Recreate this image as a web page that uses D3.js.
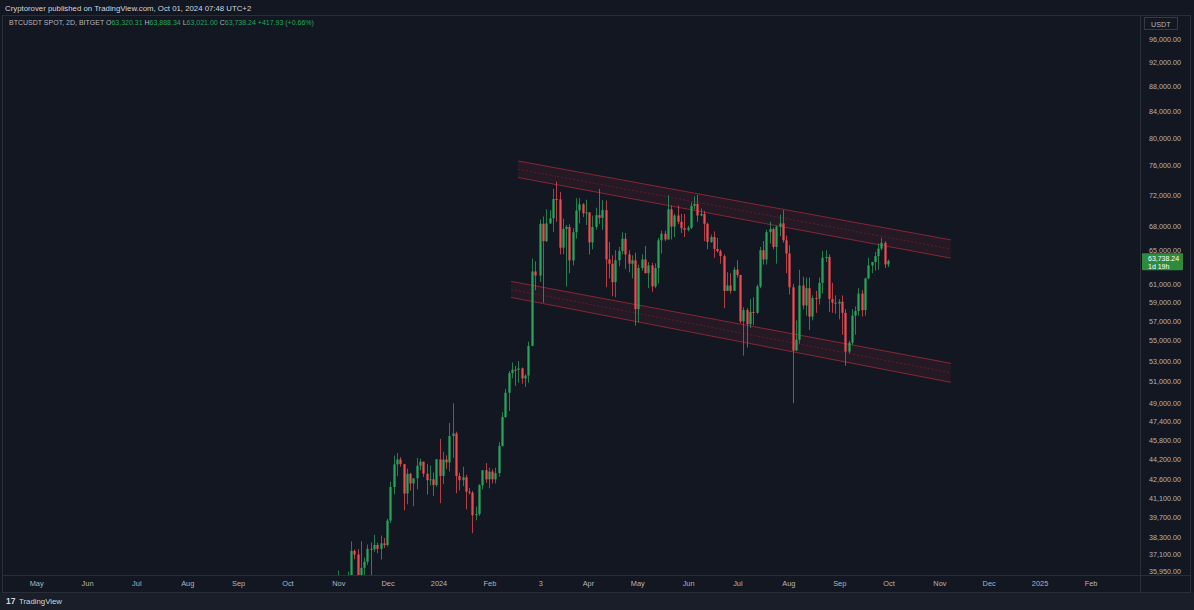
<!DOCTYPE html>
<html><head><meta charset="utf-8">
<script src="https://cdn.jsdelivr.net/npm/d3@7/dist/d3.min.js"></script>
<style>
html,body{margin:0;padding:0;background:#131722;}
svg{display:block;font-family:"Liberation Sans",Arial,sans-serif;}
</style></head>
<body>
<svg id="c" width="1194" height="610"></svg>
<script>
// ---------- DATA (2D candles, BTCUSDT, Bitget) ----------
const dates = [
"2023-10-28","2023-10-30","2023-11-01","2023-11-03","2023-11-05","2023-11-07","2023-11-09","2023-11-11","2023-11-13","2023-11-15","2023-11-17","2023-11-19","2023-11-21","2023-11-23","2023-11-25","2023-11-27","2023-11-29",
"2023-12-01","2023-12-03","2023-12-05","2023-12-07","2023-12-09","2023-12-11","2023-12-13","2023-12-15","2023-12-17","2023-12-19","2023-12-21","2023-12-23","2023-12-25","2023-12-27","2023-12-29","2023-12-31",
"2024-01-02","2024-01-04","2024-01-06","2024-01-08","2024-01-10","2024-01-12","2024-01-14","2024-01-16","2024-01-18","2024-01-20","2024-01-22","2024-01-24","2024-01-26","2024-01-28","2024-01-30",
"2024-02-01","2024-02-03","2024-02-05","2024-02-07","2024-02-09","2024-02-11","2024-02-13","2024-02-15","2024-02-17","2024-02-19","2024-02-21","2024-02-23","2024-02-25","2024-02-27","2024-02-29",
"2024-03-03","2024-03-05","2024-03-07","2024-03-09","2024-03-11","2024-03-13","2024-03-15","2024-03-17","2024-03-19","2024-03-21","2024-03-23","2024-03-25","2024-03-27","2024-03-29","2024-03-31",
"2024-04-02","2024-04-04","2024-04-06","2024-04-08","2024-04-10","2024-04-12","2024-04-14","2024-04-16","2024-04-18","2024-04-20","2024-04-22","2024-04-24","2024-04-26","2024-04-28","2024-04-30",
"2024-05-02","2024-05-04","2024-05-06","2024-05-08","2024-05-10","2024-05-12","2024-05-14","2024-05-16","2024-05-18","2024-05-20","2024-05-22","2024-05-24","2024-05-26","2024-05-28","2024-05-30",
"2024-06-01","2024-06-03","2024-06-05","2024-06-07","2024-06-09","2024-06-11","2024-06-13","2024-06-15","2024-06-17","2024-06-19","2024-06-21","2024-06-23","2024-06-25","2024-06-27","2024-06-29",
"2024-07-01","2024-07-03","2024-07-05","2024-07-07","2024-07-09","2024-07-11","2024-07-13","2024-07-15","2024-07-17","2024-07-19","2024-07-21","2024-07-23","2024-07-25","2024-07-27","2024-07-29","2024-07-31",
"2024-08-02","2024-08-04","2024-08-06","2024-08-08","2024-08-10","2024-08-12","2024-08-14","2024-08-16","2024-08-18","2024-08-20","2024-08-22","2024-08-24","2024-08-26","2024-08-28","2024-08-30",
"2024-09-01","2024-09-03","2024-09-05","2024-09-07","2024-09-09","2024-09-11","2024-09-13","2024-09-15","2024-09-17","2024-09-19","2024-09-21","2024-09-23","2024-09-25","2024-09-27","2024-09-29",
"2024-10-01"];
const open = [
33900,34500,34670,34940,35080,35040,35640,37310,37060,35550,36160,36570,37450,37420,37720,37450,37830,
37720,39460,41980,43770,44170,43790,41480,43020,42260,42660,43660,43990,43020,42520,42580,42140,
44180,42850,44160,43930,46120,46340,42840,42510,42740,41620,41550,39850,39930,42120,43300,
42580,43190,42580,43080,45290,47770,49960,51800,52130,52120,52260,51300,51570,54480,62500,
62030,68250,66100,68300,68950,71450,71400,65300,67600,67850,63780,67200,69950,70750,69600,
69700,65950,67850,69350,69000,70000,63900,63400,61280,63800,64900,66400,64500,63400,63800,
58300,62900,63900,62300,63200,60800,62900,66200,67000,66300,70100,67900,69300,68500,67700,
67500,67750,70550,70800,69300,69500,68250,66000,66600,65150,64900,64300,60300,60900,60300,
62700,62100,57000,58200,56700,58000,57900,60800,65000,63900,67200,67600,65400,67900,68300,66200,
64600,60700,54000,55100,60900,58700,60600,57500,59500,59450,61200,64100,64200,59400,59000,
58900,59100,57900,53900,54800,57600,58100,60000,58200,61700,63200,63600,64300,65200,65900,
63320.31];
const high = [
34750,34850,35980,35280,35380,35900,37970,37410,37420,37980,36850,37750,37890,38430,37890,38380,38200,
39600,42400,44490,44700,44360,43810,43430,43090,42420,44300,44240,44000,43810,43680,43120,44200,
45880,44800,44500,47250,49000,46500,43100,43580,42930,41900,41680,40500,42200,43300,43880,
43500,43380,43500,45600,48200,50330,52000,52820,52500,52980,52350,51700,54900,64000,63680,
68800,69170,70100,70000,72800,73780,72400,68900,68100,68200,67700,71550,71600,70900,71350,
69700,69300,70300,72800,71300,71250,66000,64400,65000,65400,67200,67100,65000,64400,64700,
63300,64500,65500,63600,63500,63450,66500,67400,67400,71950,70600,69500,70600,69500,69500,
68000,71000,71800,72000,70200,69900,68400,66900,67300,66500,65100,64500,62400,62300,63000,
63800,62100,58500,58400,59400,59600,61000,65400,66100,67500,68500,67800,68000,69400,70000,66800,
65600,61100,57100,62700,61900,61800,61800,59800,60300,61800,64900,65000,64500,61200,59800,
59400,59800,58300,55000,58300,58600,60600,60400,61800,64100,63600,64800,65800,66500,66100,
63888.34];
const low = [
33880,34080,34300,34100,34450,34520,35540,36730,34800,35360,35500,36360,35630,37250,37150,36720,37500,
37620,39280,41420,42820,43580,40220,40670,41700,40520,41800,43300,42770,41400,42100,41300,42000,
40750,42200,43400,43200,44300,41500,41720,42050,40280,41400,38550,39480,39800,41800,42300,
41880,42250,42260,42790,45240,47700,48300,51300,50600,50900,50800,50500,50900,54450,60360,
61300,59000,66000,68200,67200,68500,64500,64500,60800,62300,63200,66400,68300,69100,68100,
64500,65100,67500,68200,67500,60700,61700,59700,59600,63100,64500,62800,62400,61700,56550,
56900,62600,62300,60600,60200,60600,61100,64600,66100,66300,66300,66600,68200,67100,66600,
67300,67600,70100,68500,69200,66100,65100,65900,64100,64700,63400,58400,60300,60000,60300,
61800,56800,53500,54300,56300,56600,57800,60600,63300,63300,65800,65100,63400,66700,65900,62300,
59900,49000,54000,54700,58300,57600,56100,57100,57900,58800,60000,63600,58000,57900,57800,
57200,55600,52500,53700,54600,55600,57600,57500,57600,61600,62300,62600,62700,65000,62900,
63021.00];
const close = [
34500,34670,34940,35080,35040,35640,37310,37060,35550,36160,36570,37450,37420,37720,37450,37830,37720,
39460,41980,43770,44170,43790,41480,43020,42260,42660,43660,43990,43020,42520,42580,42140,44180,
42850,44160,43930,46120,46340,42840,42510,42740,41620,41550,39850,39930,42120,43300,42580,
43190,42580,43080,45290,47770,49960,51800,52130,52120,52260,51300,51570,54480,62500,62030,
68250,66100,68300,68950,71450,71400,65300,67600,67850,63780,67200,69950,70750,69600,69700,
65950,67850,69350,69000,70000,63900,63400,61280,63800,64900,66400,64500,63400,63800,58300,
62900,63900,62300,63200,60800,62900,66200,67000,66300,70100,67900,69300,68500,67700,67500,
67750,70550,70800,69300,69500,68250,66000,66600,65150,64900,64300,60300,60900,60300,62700,
62100,57000,58200,56700,58000,57900,60800,65000,63900,67200,67600,65400,67900,68300,66200,64600,
60700,54000,55100,60900,58700,60600,57500,59500,59450,61200,64100,64200,59400,59000,58900,
59100,57900,53900,54800,57600,58100,60000,58200,61700,63200,63600,64300,65200,65900,63320,
63738.24];

const priceTicks = [96000,92000,88000,84000,80000,76000,72000,68000,65000,61000,59000,57000,55000,53000,51000,49000,47400,45800,44200,42600,41100,39700,38300,37100,35950];
const timeTicks = ["2023-05-01","2023-06-01","2023-07-01","2023-08-01","2023-09-01","2023-10-01","2023-11-01","2023-12-01","2024-01-01","2024-02-01","2024-03-03","2024-04-01","2024-05-01","2024-06-01","2024-07-01","2024-08-01","2024-09-01","2024-10-01","2024-11-01","2024-12-01","2025-01-01","2025-02-01"];
const timeLabels = ["May","Jun","Jul","Aug","Sep","Oct","Nov","Dec","2024","Feb","3","Apr","May","Jun","Jul","Aug","Sep","Oct","Nov","Dec","2025","Feb"];

// drawn channels: [start date, end date], [top start, top end], [bottom start, bottom end]
const upperChannelDates = ["2024-02-18T17:00Z","2024-11-08T08:00Z"];
const upperChannelTop = [76640,66250];
const upperChannelBottom = [74340,64050];
const lowerChannelDates = ["2024-02-14T10:00Z","2024-11-08T08:00Z"];
const lowerChannelTop = [61370,52750];
const lowerChannelBottom = [59580,50930];

const header = "Cryptorover published on TradingView.com, Oct 01, 2024 07:48 UTC+2";
const symbolTitle = "BTCUSDT SPOT, 2D, BITGET";
const lastValues = {O:"63,320.31",H:"63,888.34",L:"63,021.00",C:"63,738.24"};
const changeText = "+417.93 (+0.66%)";
const countdown = "1d 19h";

// ---------- LAYOUT ----------
const W=1194,H=610;
const pane={l:2,r:1140,t:15,b:575};
const UP="#26a65b", DOWN="#ef4a4f", TXT="#b2b5be";
const svg=d3.select("#c");
const parse=s=>new Date(s.length===10? s+"T00:00:00Z": s);

const x=d3.scaleUtc().domain([parse("2024-01-01"),parse("2024-10-01")]).range([438,888]);
const y=d3.scaleLog().domain([35950,96000]).range([571,39]);

// backgrounds
svg.append("rect").attr("width",W).attr("height",H).attr("fill","#131722");
svg.append("rect").attr("x",0).attr("y",592).attr("width",W).attr("height",18).attr("fill","#1a1e29");
// pane border
svg.append("rect").attr("x",pane.l+0.5).attr("y",pane.t+0.5).attr("width",1188).attr("height",pane.b-pane.t+17)
  .attr("fill","none").attr("stroke","#2a2e39");
svg.append("line").attr("x1",pane.r+0.5).attr("x2",pane.r+0.5).attr("y1",pane.t).attr("y2",592).attr("stroke","#2a2e39");
svg.append("line").attr("x1",pane.l).attr("x2",1190).attr("y1",pane.b+0.5).attr("y2",pane.b+0.5).attr("stroke","#2a2e39");

const defs=svg.append("defs");
defs.append("clipPath").attr("id","pc").append("rect").attr("x",pane.l+1).attr("y",pane.t+1).attr("width",pane.r-pane.l-1).attr("height",pane.b-pane.t-1);
const g=svg.append("g").attr("clip-path","url(#pc)");

// channels
function channel(ds,top,bot){
  const x0=x(parse(ds[0])), x1=x(parse(ds[1]));
  const t0=y(top[0]), t1=y(top[1]), b0=y(bot[0]), b1=y(bot[1]);
  g.append("path").attr("d",`M${x0},${t0}L${x1},${t1}L${x1},${b1}L${x0},${b0}Z`)
    .attr("fill","rgba(242,54,69,0.08)");
  const line=(a,b,dash,op)=>g.append("line").attr("x1",x0).attr("y1",a).attr("x2",x1).attr("y2",b)
    .attr("stroke","#f23645").attr("stroke-opacity",op).attr("stroke-width",1).attr("stroke-dasharray",dash);
  line(t0,t1,null,0.5);
  line((t0+b0)/2,(t1+b1)/2,"2,2",0.25);
  line(b0,b1,null,0.5);
}
channel(upperChannelDates,upperChannelTop,upperChannelBottom);
channel(lowerChannelDates,lowerChannelTop,lowerChannelBottom);

// candles
const step = x(parse("2024-01-03"))-x(parse("2024-01-01"));
const bw = Math.max(1, step*0.68);
const candles=g.append("g");
dates.forEach((d,i)=>{
  const cx=Math.round(x(parse(d)))+0.5;
  const col=close[i]>=open[i]?UP:DOWN;
  candles.append("line").attr("x1",cx).attr("x2",cx).attr("y1",y(high[i])).attr("y2",y(low[i]))
    .attr("stroke",col).attr("stroke-width",1).attr("stroke-opacity",0.75);
  const yt=y(Math.max(open[i],close[i])), yb=y(Math.min(open[i],close[i]));
  candles.append("rect").attr("x",cx-bw/2).attr("y",yt).attr("width",bw).attr("height",Math.max(1,yb-yt)).attr("fill",col);
});

// price axis
const pa=svg.append("g");
priceTicks.forEach(v=>{
  pa.append("text").attr("x",1165).attr("y",y(v)+2.8).attr("text-anchor","middle")
    .attr("font-size",7.2).attr("fill",TXT).text(d3.format(",.2f")(v));
});
// USDT box
pa.append("rect").attr("x",1144.5).attr("y",17.5).attr("width",33).attr("height",12).attr("fill","#131722").attr("stroke","#363a45");
pa.append("text").attr("x",1151).attr("y",26.5).attr("font-size",7.2).attr("fill",TXT).text("USDT");
// last price label
const ly=y(close[close.length-1]);
pa.append("rect").attr("x",1142).attr("y",ly-7.5).attr("width",41).attr("height",17).attr("fill","#2e8b3c").attr("rx",1);
pa.append("text").attr("x",1148).attr("y",ly+0.5).attr("font-size",7).attr("fill","#ffffff").text(d3.format(",.2f")(close[close.length-1]));
pa.append("text").attr("x",1148).attr("y",ly+8).attr("font-size",7).attr("fill","#ffffff").text(countdown);

// time axis
const ta=svg.append("g");
timeTicks.forEach((t,i)=>{
  ta.append("text").attr("x",x(parse(t))+1).attr("y",586).attr("text-anchor","middle")
    .attr("font-size",7.4).attr("fill",TXT).text(timeLabels[i]);
});

// header
svg.append("text").attr("x",5).attr("y",10.5).attr("font-size",7.8).attr("fill","#d1d4dc").text(header);
const leg=svg.append("text").attr("x",9).attr("y",25).attr("font-size",7).attr("fill",TXT);
leg.append("tspan").text(symbolTitle+"  ");
["O","H","L","C"].forEach(k=>{
  leg.append("tspan").attr("fill",TXT).text(k);
  leg.append("tspan").attr("fill",UP).text(lastValues[k]+" ");
});
leg.append("tspan").attr("fill",UP).text(changeText);

// footer logo
const fl=svg.append("g");
fl.append("text").attr("x",6).attr("y",604).attr("font-size",8.5).attr("font-weight","bold").attr("fill","#d1d4dc").text("17");
fl.append("text").attr("x",19).attr("y",604).attr("font-size",7.8).attr("fill","#d1d4dc").text("TradingView");
</script>
</body></html>
